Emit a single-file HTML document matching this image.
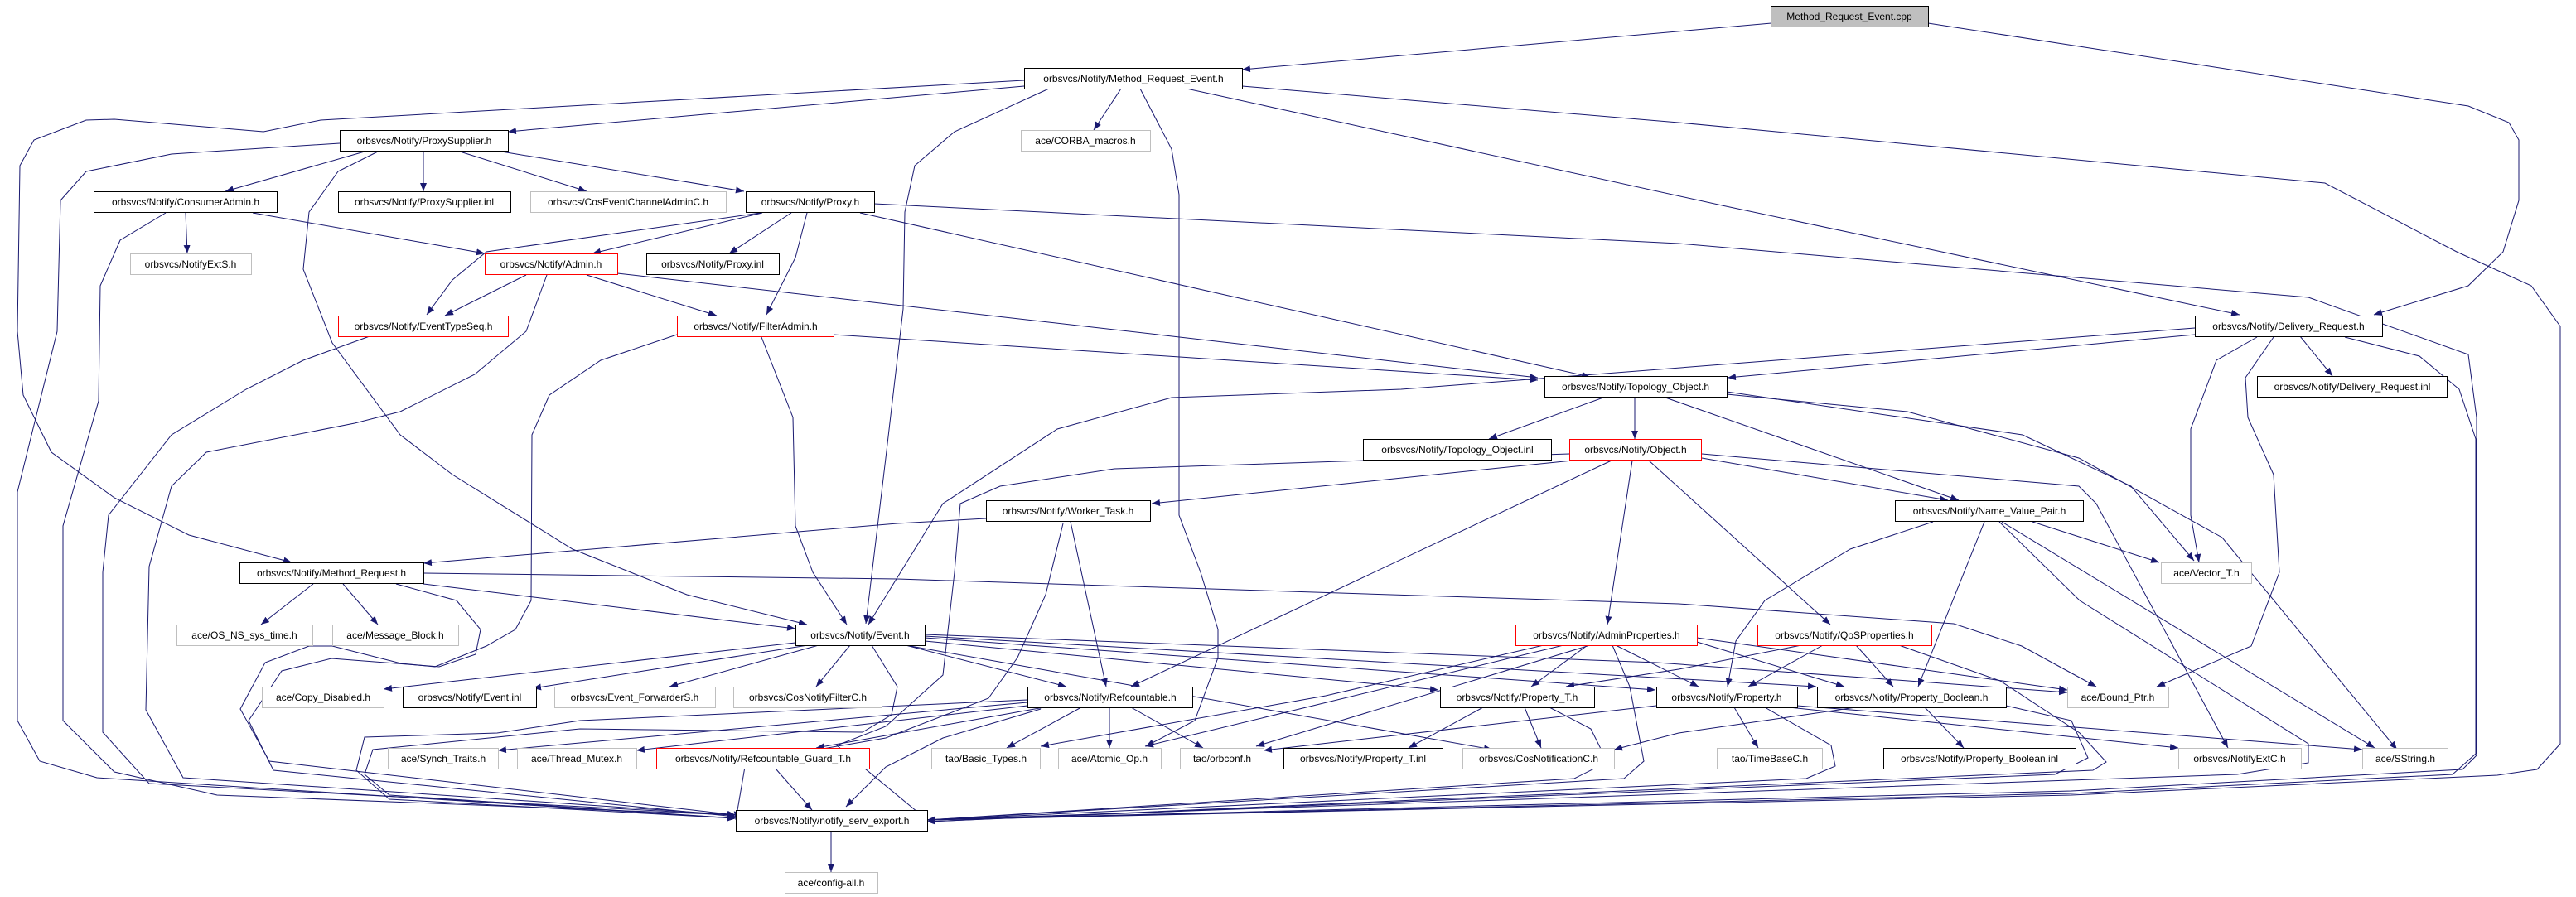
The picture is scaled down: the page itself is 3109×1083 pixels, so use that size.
<!DOCTYPE html>
<html><head><meta charset="utf-8"><style>
html,body{margin:0;padding:0;background:#fff;}
svg{display:block;}
text{font-family:"Liberation Sans",sans-serif;font-size:12px;text-anchor:middle;}
.e{fill:none;stroke:#191970;stroke-width:1;marker-end:url(#a);}
.b{fill:#fff;stroke:#000;stroke-width:1;}
.g{fill:#fff;stroke:#bfbfbf;stroke-width:1;}
.r{fill:#fff;stroke:#ff0000;stroke-width:1;}
</style></head><body>
<svg width="3109" height="1083" viewBox="0 0 3109 1083" xmlns="http://www.w3.org/2000/svg">
<defs><marker id="a" markerWidth="10" markerHeight="8" refX="10" refY="4" orient="auto" markerUnits="userSpaceOnUse"><path d="M0,0 L10,4 L0,8z" fill="#191970"/></marker></defs>
<g>
<polyline class="e" points="2138,28 1499,84"/>
<polyline class="e" points="2327,28 2979,128 3028,148 3040,169 3040,242 3021,304 2979,345 2865,380"/>
<polyline class="e" points="1236,104 613,159"/>
<polyline class="e" points="1236,97 387,145 318,159 138,144 104,145 41,169 24,200 21,400 28,477 62,546 138,601 228,646 352,679"/>
<polyline class="e" points="1353,107 1320,157"/>
<polyline class="e" points="1266,107 1152,159 1104,200 1092,256 1090,373 1069,553 1045,753"/>
<polyline class="e" points="1376,107 1414,180 1423,235 1423,622 1449,691 1470,760 1470,794 1442,870 1383,901"/>
<polyline class="e" points="1432,107 2083,249 2703,380"/>
<polyline class="e" points="1499,104 2026,148 2806,221 2965,304 3055,345 3090,394 3090,898 3062,929 3014,936 2500,960 1119,990"/>
<polyline class="e" points="440,183 272,231"/>
<polyline class="e" points="511,183 511,231"/>
<polyline class="e" points="555,183 708,231"/>
<polyline class="e" points="605,183 898,231"/>
<polyline class="e" points="410,173 207,186 104,207 73,242 69,400 21,594 21,870 48,919 117,939 888,988"/>
<polyline class="e" points="456,183 408,207 373,256 366,325 401,414 483,525 546,573 691,663 829,718 974,754"/>
<polyline class="e" points="224,257 226,306"/>
<polyline class="e" points="305,257 585,306"/>
<polyline class="e" points="200,257 145,290 121,345 119,484 76,635 76,870 138,932 262,960 888,984"/>
<polyline class="e" points="920,257 715,306"/>
<polyline class="e" points="955,257 880,306"/>
<polyline class="e" points="974,257 960,311 925,380"/>
<polyline class="e" points="918,257 587,304 546,338 515,380"/>
<polyline class="e" points="1038,257 1919,455"/>
<polyline class="e" points="1055,246 2026,294 2786,359 2979,428 2989,504 2989,912 2972,929 2500,955 1119,990"/>
<polyline class="e" points="635,332 537,381"/>
<polyline class="e" points="708,332 865,381"/>
<polyline class="e" points="745,330 1856,456"/>
<polyline class="e" points="660,332 635,400 573,452 483,497 428,511 249,546 207,587 180,684 176,857 221,939 888,984"/>
<polyline class="e" points="446,406 366,435 297,470 207,525 131,622 124,691 124,884 180,946 888,984"/>
<polyline class="e" points="1006,404 1856,459"/>
<polyline class="e" points="919,407 957,504 960,635 981,691 1022,754"/>
<polyline class="e" points="817,404 725,435 663,477 642,525 641,725 622,760 587,780 525,805 484,801 401,780 373,780 320,800 290,856 325,919 888,984"/>
<polyline class="e" points="1935,480 1797,530"/>
<polyline class="e" points="1973,480 1973,530"/>
<polyline class="e" points="2010,480 2364,604"/>
<polyline class="e" points="2084,473 2441,525 2572,587 2648,677"/>
<polyline class="e" points="2084,476 2302,497 2509,553 2682,649 2779,767 2893,905"/>
<polyline class="e" points="2649,404 2085,456"/>
<polyline class="e" points="2649,396 1691,470 1414,480 1276,518 1138,608 1048,754"/>
<polyline class="e" points="2776,406 2815,454"/>
<polyline class="e" points="2724,407 2675,435 2644,518 2644,622 2654,679"/>
<polyline class="e" points="2744,407 2710,456 2713,504 2744,573 2751,691 2717,780 2603,829"/>
<polyline class="e" points="2830,407 2920,430 2968,470 2988,530 2988,910 2960,935 2500,958 1119,990"/>
<polyline class="e" points="1898,556 1390,608"/>
<polyline class="e" points="1894,548 1345,566 1207,587 1159,608 1152,691 1138,815 1069,877 1010,900 1119,990"/>
<polyline class="e" points="1945,556 1365,829"/>
<polyline class="e" points="1970,556 1940,754"/>
<polyline class="e" points="1990,556 2209,754"/>
<polyline class="e" points="2054,553 2351,604"/>
<polyline class="e" points="2054,548 2509,587 2530,608 2689,903"/>
<polyline class="e" points="1190,626 1083,632 511,680"/>
<polyline class="e" points="1292,630 1335,829"/>
<polyline class="e" points="1283,632 1262,718 1228,794 1193,843 1069,891 900,920 888,990"/>
<polyline class="e" points="378,705 315,754"/>
<polyline class="e" points="414,705 456,754"/>
<polyline class="e" points="511,705 960,759"/>
<polyline class="e" points="511,692 1083,699 2026,729 2358,753 2440,780 2530,829"/>
<polyline class="e" points="478,705 551,725 580,760 574,790 530,805 400,795 340,810 300,870 330,930 888,986"/>
<polyline class="e" points="960,776 463,832"/>
<polyline class="e" points="975,779 643,831"/>
<polyline class="e" points="988,779 808,829"/>
<polyline class="e" points="1026,779 985,829"/>
<polyline class="e" points="1093,779 1287,829"/>
<polyline class="e" points="1116,774 1736,833"/>
<polyline class="e" points="1116,770 1998,833"/>
<polyline class="e" points="1116,768 2192,829"/>
<polyline class="e" points="1116,766 2000,800 2495,836"/>
<polyline class="e" points="1093,779 1801,905"/>
<polyline class="e" points="1052,779 1083,829 1076,863 1041,884 700,880 450,905 440,935 470,960 888,988"/>
<polyline class="e" points="1240,848 601,906"/>
<polyline class="e" points="1240,852 768,906"/>
<polyline class="e" points="1260,854 985,903"/>
<polyline class="e" points="1305,854 1215,903"/>
<polyline class="e" points="1339,854 1339,903"/>
<polyline class="e" points="1365,854 1452,903"/>
<polyline class="e" points="1256,856 1138,891 1069,926 1021,974"/>
<polyline class="e" points="936,928 980,978"/>
<polyline class="e" points="1240,845 700,870 600,885 440,890 430,930 470,965 888,988"/>
<polyline class="e" points="1916,779 1848,829"/>
<polyline class="e" points="1950,779 2050,829"/>
<polyline class="e" points="2048,775 2226,829"/>
<polyline class="e" points="2048,770 2495,833"/>
<polyline class="e" points="1863,779 1600,840 1256,901"/>
<polyline class="e" points="1887,779 1382,901"/>
<polyline class="e" points="1919,779 1516,901"/>
<polyline class="e" points="1946,779 1967,829 1984,919 1960,940 1119,990"/>
<polyline class="e" points="2200,779 2110,829"/>
<polyline class="e" points="2240,779 2285,829"/>
<polyline class="e" points="2174,779 2026,808 1890,829"/>
<polyline class="e" points="2292,779 2414,822 2510,885 2542,920 2526,930 1119,992"/>
<polyline class="e" points="2453,630 2606,679"/>
<polyline class="e" points="2333,630 2233,663 2130,725 2095,774 2085,829"/>
<polyline class="e" points="2395,630 2315,829"/>
<polyline class="e" points="2416,630 2866,903"/>
<polyline class="e" points="2413,630 2510,725 2786,898 2786,921 2700,935 1119,990"/>
<polyline class="e" points="1790,854 1700,903"/>
<polyline class="e" points="1840,854 1860,903"/>
<polyline class="e" points="1870,854 1920,880 1940,920 1900,940 1119,990"/>
<polyline class="e" points="2093,854 2122,903"/>
<polyline class="e" points="2169,852 2851,905"/>
<polyline class="e" points="2140,852 2629,903"/>
<polyline class="e" points="1999,852 1525,906"/>
<polyline class="e" points="2130,854 2210,900 2215,925 2180,940 1119,990"/>
<polyline class="e" points="2323,854 2370,903"/>
<polyline class="e" points="2240,854 2026,885 1948,905"/>
<polyline class="e" points="2421,852 2500,870 2520,915 2480,935 1119,992"/>
<polyline class="e" points="1003,1004 1003,1053"/>
</g>
<g>
<rect x="2137.5" y="7.5" width="190" height="25" fill="#bfbfbf" stroke="#000"/><text x="2232" y="24">Method_Request_Event.cpp</text>
<rect class="b" x="1236.5" y="82.5" width="263" height="25"/><text x="1368" y="99">orbsvcs/Notify/Method_Request_Event.h</text>
<rect class="b" x="410.5" y="157.5" width="203" height="25"/><text x="512" y="174">orbsvcs/Notify/ProxySupplier.h</text>
<rect class="g" x="1232.5" y="157.5" width="156" height="25"/><text x="1310" y="174">ace/CORBA_macros.h</text>
<rect class="b" x="113.5" y="231.5" width="221" height="25"/><text x="224" y="248">orbsvcs/Notify/ConsumerAdmin.h</text>
<rect class="b" x="408.5" y="231.5" width="208" height="25"/><text x="512" y="248">orbsvcs/Notify/ProxySupplier.inl</text>
<rect class="g" x="640.5" y="231.5" width="236" height="25"/><text x="758" y="248">orbsvcs/CosEventChannelAdminC.h</text>
<rect class="b" x="900.5" y="231.5" width="155" height="25"/><text x="978" y="248">orbsvcs/Notify/Proxy.h</text>
<rect class="g" x="157.5" y="306.5" width="146" height="25"/><text x="230" y="323">orbsvcs/NotifyExtS.h</text>
<rect class="r" x="585.5" y="306.5" width="160" height="25"/><text x="665" y="323">orbsvcs/Notify/Admin.h</text>
<rect class="b" x="780.5" y="306.5" width="160" height="25"/><text x="860" y="323">orbsvcs/Notify/Proxy.inl</text>
<rect class="r" x="408.5" y="381.5" width="205" height="25"/><text x="511" y="398">orbsvcs/Notify/EventTypeSeq.h</text>
<rect class="r" x="817.5" y="381.5" width="189" height="25"/><text x="912" y="398">orbsvcs/Notify/FilterAdmin.h</text>
<rect class="b" x="2649.5" y="381.5" width="226" height="25"/><text x="2762" y="398">orbsvcs/Notify/Delivery_Request.h</text>
<rect class="b" x="1864.5" y="454.5" width="220" height="25"/><text x="1974" y="471">orbsvcs/Notify/Topology_Object.h</text>
<rect class="b" x="2724.5" y="454.5" width="229" height="25"/><text x="2839" y="471">orbsvcs/Notify/Delivery_Request.inl</text>
<rect class="b" x="1645.5" y="530.5" width="227" height="25"/><text x="1759" y="547">orbsvcs/Notify/Topology_Object.inl</text>
<rect class="r" x="1894.5" y="530.5" width="159" height="25"/><text x="1974" y="547">orbsvcs/Notify/Object.h</text>
<rect class="b" x="1190.5" y="604.5" width="198" height="25"/><text x="1289" y="621">orbsvcs/Notify/Worker_Task.h</text>
<rect class="b" x="2287.5" y="604.5" width="227" height="25"/><text x="2401" y="621">orbsvcs/Notify/Name_Value_Pair.h</text>
<rect class="b" x="289.5" y="679.5" width="222" height="25"/><text x="400" y="696">orbsvcs/Notify/Method_Request.h</text>
<rect class="g" x="2608.5" y="679.5" width="109" height="25"/><text x="2663" y="696">ace/Vector_T.h</text>
<rect class="g" x="213.5" y="754.5" width="164" height="25"/><text x="295" y="771">ace/OS_NS_sys_time.h</text>
<rect class="g" x="401.5" y="754.5" width="152" height="25"/><text x="477" y="771">ace/Message_Block.h</text>
<rect class="b" x="960.5" y="754.5" width="156" height="25"/><text x="1038" y="771">orbsvcs/Notify/Event.h</text>
<rect class="r" x="1829.5" y="754.5" width="219" height="25"/><text x="1939" y="771">orbsvcs/Notify/AdminProperties.h</text>
<rect class="r" x="2121.5" y="754.5" width="210" height="25"/><text x="2226" y="771">orbsvcs/Notify/QoSProperties.h</text>
<rect class="g" x="316.5" y="829.5" width="147" height="25"/><text x="390" y="846">ace/Copy_Disabled.h</text>
<rect class="b" x="486.5" y="829.5" width="161" height="25"/><text x="567" y="846">orbsvcs/Notify/Event.inl</text>
<rect class="g" x="669.5" y="829.5" width="194" height="25"/><text x="766" y="846">orbsvcs/Event_ForwarderS.h</text>
<rect class="g" x="885.5" y="829.5" width="179" height="25"/><text x="975" y="846">orbsvcs/CosNotifyFilterC.h</text>
<rect class="b" x="1240.5" y="829.5" width="199" height="25"/><text x="1340" y="846">orbsvcs/Notify/Refcountable.h</text>
<rect class="b" x="1738.5" y="829.5" width="186" height="25"/><text x="1831" y="846">orbsvcs/Notify/Property_T.h</text>
<rect class="b" x="1999.5" y="829.5" width="170" height="25"/><text x="2084" y="846">orbsvcs/Notify/Property.h</text>
<rect class="b" x="2193.5" y="829.5" width="228" height="25"/><text x="2307" y="846">orbsvcs/Notify/Property_Boolean.h</text>
<rect class="g" x="2495.5" y="829.5" width="122" height="25"/><text x="2556" y="846">ace/Bound_Ptr.h</text>
<rect class="g" x="468.5" y="903.5" width="133" height="25"/><text x="535" y="920">ace/Synch_Traits.h</text>
<rect class="g" x="624.5" y="903.5" width="144" height="25"/><text x="696" y="920">ace/Thread_Mutex.h</text>
<rect class="r" x="792.5" y="903.5" width="257" height="25"/><text x="921" y="920">orbsvcs/Notify/Refcountable_Guard_T.h</text>
<rect class="g" x="1124.5" y="903.5" width="131" height="25"/><text x="1190" y="920">tao/Basic_Types.h</text>
<rect class="g" x="1277.5" y="903.5" width="124" height="25"/><text x="1339" y="920">ace/Atomic_Op.h</text>
<rect class="g" x="1424.5" y="903.5" width="101" height="25"/><text x="1475" y="920">tao/orbconf.h</text>
<rect class="b" x="1549.5" y="903.5" width="192" height="25"/><text x="1645" y="920">orbsvcs/Notify/Property_T.inl</text>
<rect class="g" x="1765.5" y="903.5" width="183" height="25"/><text x="1857" y="920">orbsvcs/CosNotificationC.h</text>
<rect class="g" x="2072.5" y="903.5" width="127" height="25"/><text x="2136" y="920">tao/TimeBaseC.h</text>
<rect class="b" x="2273.5" y="903.5" width="232" height="25"/><text x="2389" y="920">orbsvcs/Notify/Property_Boolean.inl</text>
<rect class="g" x="2629.5" y="903.5" width="148" height="25"/><text x="2703" y="920">orbsvcs/NotifyExtC.h</text>
<rect class="g" x="2851.5" y="903.5" width="103" height="25"/><text x="2903" y="920">ace/SString.h</text>
<rect class="b" x="888.5" y="978.5" width="231" height="25"/><text x="1004" y="995">orbsvcs/Notify/notify_serv_export.h</text>
<rect class="g" x="947.5" y="1053.5" width="112" height="25"/><text x="1003" y="1070">ace/config-all.h</text>
</g>
</svg>
</body></html>
